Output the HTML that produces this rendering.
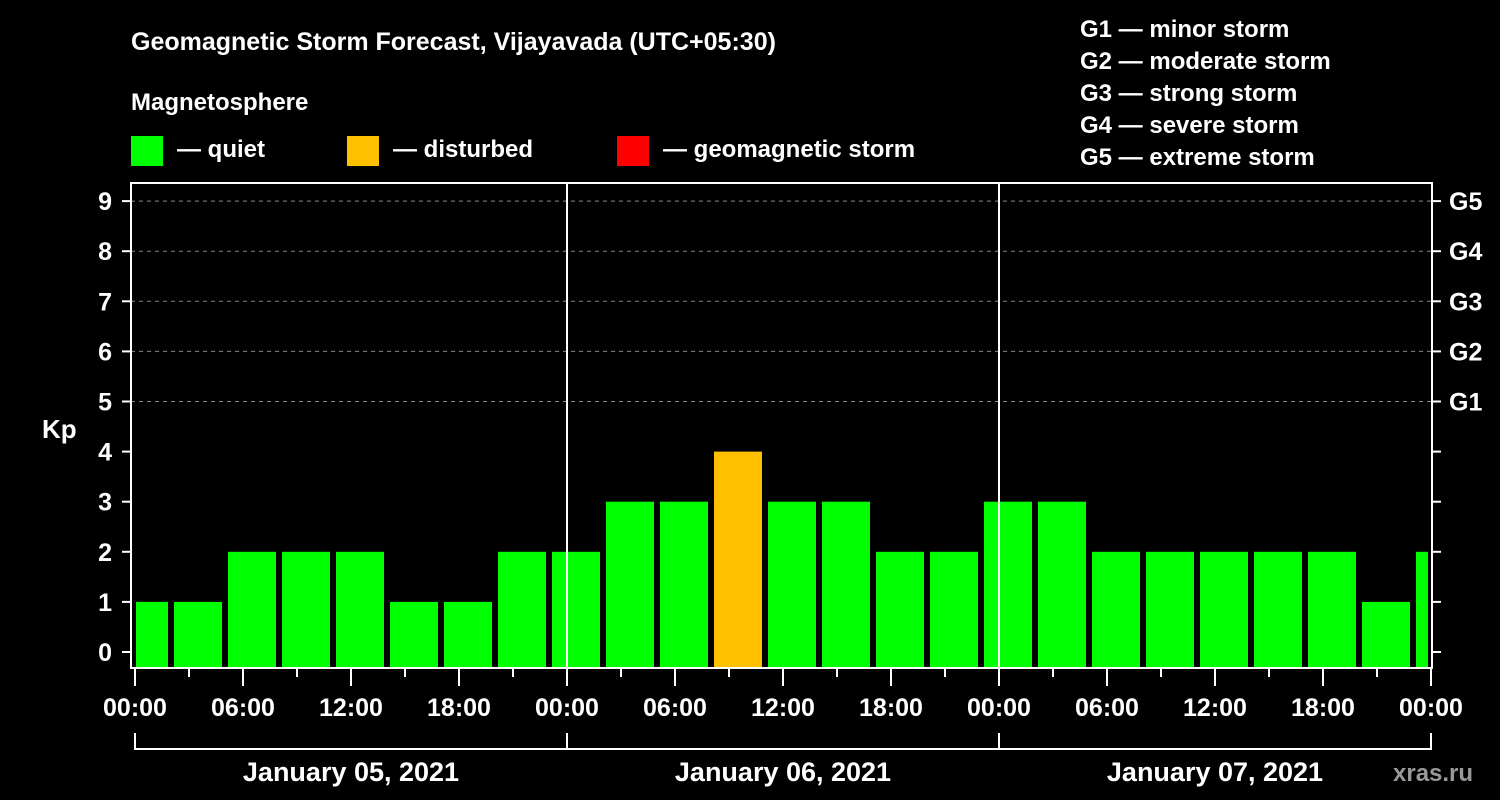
<!DOCTYPE html>
<html><head><meta charset="utf-8"><style>
body{margin:0;background:#000;width:1500px;height:800px;overflow:hidden}
svg{display:block;font-family:"Liberation Sans",Arial,sans-serif;font-weight:bold;fill:#fff}
</style></head><body>
<svg id="chart" width="1500" height="800" viewBox="0 0 1500 800">
<rect width="1500" height="800" fill="#000"/>
<text x="131" y="50" font-size="25">Geomagnetic Storm Forecast, Vijayavada (UTC+05:30)</text>
<text x="131" y="110" font-size="24">Magnetosphere</text>
<g><rect x="131" y="136" width="32" height="30" fill="#00ff00"/><text x="177" y="157" font-size="24">— quiet</text></g>
<g><rect x="347" y="136" width="32" height="30" fill="#ffc000"/><text x="393" y="157" font-size="24">— disturbed</text></g>
<g><rect x="617" y="136" width="32" height="30" fill="#ff0000"/><text x="663" y="157" font-size="24">— geomagnetic storm</text></g>
<g font-size="24">
<text x="1080" y="37">G1 — minor storm</text><text x="1080" y="69">G2 — moderate storm</text><text x="1080" y="101">G3 — strong storm</text><text x="1080" y="133">G4 — severe storm</text><text x="1080" y="165">G5 — extreme storm</text>
</g>
<text x="42" y="438" font-size="26">Kp</text>
<text x="1393" y="781" font-size="24" fill="#999" style="fill:#999">xras.ru</text>
<g id="grid"></g><g id="bars"></g><g id="axes"></g>
</svg>
<script>
const kpValues=[1,1,2,2,2,1,1,2,2,3,3,4,3,3,2,2,3,3,2,2,2,2,2,1,2];
const yTicks=[0,1,2,3,4,5,6,7,8,9];
const gLabels=["G1","G2","G3","G4","G5"];
const xTickLabels=["00:00","06:00","12:00","18:00"];
const dayLabels=["January 05, 2021","January 06, 2021","January 07, 2021"];
const NS="http://www.w3.org/2000/svg";
const X0=135,DAY=432,L=131,R=1432,T=183,B=668;
const y=v=>652-50.1*v;
const x=h=>X0+h*DAY/24;
function mk(tag,attrs,parent,text){const e=document.createElementNS(NS,tag);for(const k in attrs)e.setAttribute(k,attrs[k]);if(text!==undefined)e.textContent=text;parent.appendChild(e);return e;}
const grid=document.getElementById('grid'),bars=document.getElementById('bars'),axes=document.getElementById('axes');
for(const v of yTicks){
 if(v>=5){const g=mk('line',{x1:L,x2:R,y1:y(v),y2:y(v),stroke:'#888','stroke-dasharray':'4,4','stroke-width':1},grid);
 
 }
 const t=mk('text',{x:112,y:y(v)+9,'font-size':25,'text-anchor':'end'},axes,String(v));
 
 
 mk('line',{x1:122,x2:L,y1:y(v),y2:y(v),stroke:'#fff','stroke-width':2},axes);
 mk('line',{x1:R,x2:1441,y1:y(v),y2:y(v),stroke:'#fff','stroke-width':2},axes);
}
gLabels.forEach((g,i)=>{const t=mk('text',{x:1449,y:y(i+5)+9,'font-size':25},axes,g);
 
 });
kpValues.forEach((v,i)=>{
 const s=-1+3*i; // slot start in hours (UTC bins shifted)
 let x1=x(s)+3,x2=x(s+3)-3;
 x1=Math.max(x1,L+5);x2=Math.min(x2,R-4);
 const col=v>=5?'#ff0000':(v>=4?'#ffc000':'#00ff00');
 const r=mk('rect',{x:x1,y:y(v),width:x2-x1,height:B-y(v),fill:col},bars);
 
 
});
mk('rect',{x:L,y:T,width:R-L,height:B-T,fill:'none',stroke:'#fff','stroke-width':2},axes);
for(let d=1;d<3;d++){const l=mk('line',{x1:x(24*d),x2:x(24*d),y1:T,y2:B,stroke:'#fff','stroke-width':2},axes);
 
 }
for(let h=0;h<=72;h+=3){const major=h%6===0;
 mk('line',{x1:x(h),x2:x(h),y1:B,y2:major?686:677,stroke:'#fff','stroke-width':2},axes);
 if(major){const t=mk('text',{x:x(h),y:716,'font-size':25,'text-anchor':'middle'},axes,xTickLabels[(h/6)%4]);
 
 }}
mk('path',{d:`M${x(0)},733V749H${x(72)}V733M${x(24)},733V749M${x(48)},733V749`,stroke:'#fff','stroke-width':2,fill:'none'},axes);
dayLabels.forEach((d,i)=>{const t=mk('text',{x:x(24*i+12),y:781,'font-size':27,'text-anchor':'middle'},axes,d);
 
 });
</script>
</body></html>
